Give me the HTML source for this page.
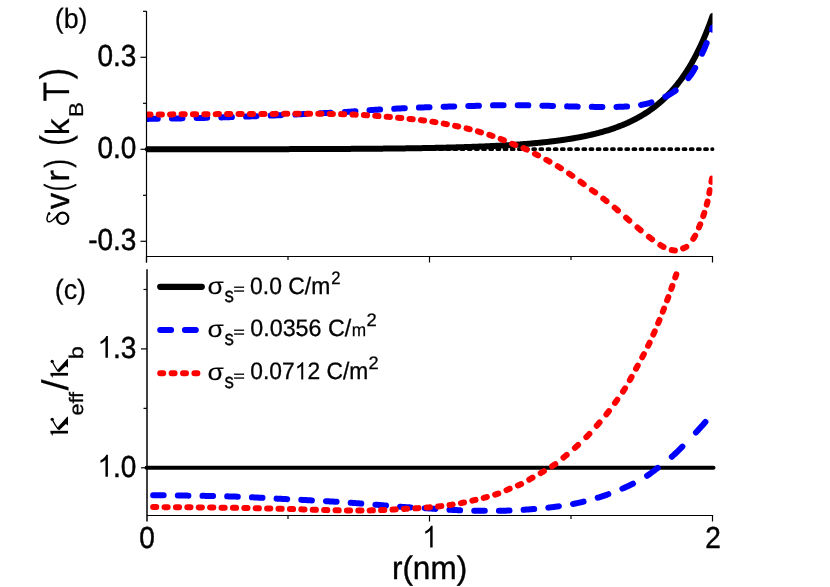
<!DOCTYPE html>
<html><head><meta charset="utf-8"><title>chart</title>
<style>
html,body{margin:0;padding:0;background:#fff;}
body{width:830px;height:587px;overflow:hidden;font-family:"Liberation Sans",sans-serif;}
svg{display:block;}
svg text{text-rendering:geometricPrecision;}
.t{opacity:0.999;}
</style></head><body>
<svg width="830" height="587" viewBox="0 0 830 587">
<defs>
<clipPath id="ct"><rect x="146.5" y="0" width="566.0" height="256.5"/></clipPath>
<clipPath id="cb"><rect x="140" y="269.5" width="578.5" height="246.0"/></clipPath>
</defs>
<rect width="830" height="587" fill="#fff"/>
<path d="M146.52,149.15 H712.5" fill="none" stroke="#000" stroke-width="3.8" stroke-linecap="round" stroke-dasharray="2.0 5.16" stroke-dashoffset="0"/>
<g clip-path="url(#ct)" fill="none" stroke-linecap="round" stroke-linejoin="round">
<path d="M146.50,149.28 L147.25,149.28 L148.00,149.28 L148.75,149.28 L149.50,149.28 L150.25,149.28 L151.00,149.28 L151.75,149.28 L152.50,149.28 L153.25,149.28 L154.00,149.27 L154.75,149.27 L155.50,149.27 L156.25,149.27 L157.00,149.27 L157.75,149.27 L158.50,149.27 L159.25,149.27 L160.00,149.27 L160.75,149.27 L161.50,149.27 L162.25,149.27 L163.00,149.27 L163.75,149.27 L164.50,149.27 L165.25,149.27 L166.00,149.27 L166.75,149.27 L167.50,149.27 L168.25,149.27 L169.00,149.27 L169.75,149.27 L170.50,149.27 L171.25,149.27 L172.00,149.27 L172.75,149.27 L173.50,149.27 L174.25,149.27 L175.00,149.27 L175.75,149.27 L176.50,149.27 L177.25,149.26 L178.00,149.26 L178.75,149.26 L179.50,149.26 L180.25,149.26 L181.00,149.26 L181.75,149.26 L182.50,149.26 L183.25,149.26 L184.00,149.26 L184.75,149.26 L185.50,149.26 L186.25,149.26 L187.00,149.26 L187.75,149.26 L188.50,149.26 L189.25,149.26 L190.00,149.26 L190.75,149.26 L191.50,149.26 L192.25,149.26 L193.00,149.26 L193.75,149.26 L194.50,149.26 L195.25,149.25 L196.00,149.25 L196.75,149.25 L197.50,149.25 L198.25,149.25 L199.00,149.25 L199.75,149.25 L200.50,149.25 L201.25,149.25 L202.00,149.25 L202.75,149.25 L203.50,149.25 L204.25,149.25 L205.00,149.25 L205.75,149.25 L206.50,149.25 L207.25,149.25 L208.00,149.25 L208.75,149.24 L209.50,149.24 L210.25,149.24 L211.00,149.24 L211.75,149.24 L212.50,149.24 L213.25,149.24 L214.00,149.24 L214.75,149.24 L215.50,149.24 L216.25,149.24 L217.00,149.24 L217.75,149.24 L218.50,149.24 L219.25,149.24 L220.00,149.24 L220.75,149.23 L221.50,149.23 L222.25,149.23 L223.00,149.23 L223.75,149.23 L224.50,149.23 L225.25,149.23 L226.00,149.23 L226.75,149.23 L227.50,149.23 L228.25,149.23 L229.00,149.23 L229.75,149.23 L230.50,149.22 L231.25,149.22 L232.00,149.22 L232.75,149.22 L233.50,149.22 L234.25,149.22 L235.00,149.22 L235.75,149.22 L236.50,149.22 L237.25,149.22 L238.00,149.22 L238.75,149.22 L239.50,149.21 L240.25,149.21 L241.00,149.21 L241.75,149.21 L242.50,149.21 L243.25,149.21 L244.00,149.21 L244.75,149.21 L245.50,149.21 L246.25,149.21 L247.00,149.20 L247.75,149.20 L248.50,149.20 L249.25,149.20 L250.00,149.20 L250.75,149.20 L251.50,149.20 L252.25,149.20 L253.00,149.20 L253.75,149.19 L254.50,149.19 L255.25,149.19 L256.00,149.19 L256.75,149.19 L257.50,149.19 L258.25,149.19 L259.00,149.19 L259.75,149.19 L260.50,149.18 L261.25,149.18 L262.00,149.18 L262.75,149.18 L263.50,149.18 L264.25,149.18 L265.00,149.18 L265.75,149.18 L266.50,149.17 L267.25,149.17 L268.00,149.17 L268.75,149.17 L269.50,149.17 L270.25,149.17 L271.00,149.17 L271.75,149.16 L272.50,149.16 L273.25,149.16 L274.00,149.16 L274.75,149.16 L275.50,149.16 L276.25,149.15 L277.00,149.15 L277.75,149.15 L278.50,149.15 L279.25,149.15 L280.00,149.15 L280.75,149.15 L281.50,149.14 L282.25,149.14 L283.00,149.14 L283.75,149.14 L284.50,149.14 L285.25,149.13 L286.00,149.13 L286.75,149.13 L287.50,149.13 L288.25,149.13 L289.00,149.13 L289.75,149.12 L290.50,149.12 L291.25,149.12 L292.00,149.12 L292.75,149.12 L293.50,149.11 L294.25,149.11 L295.00,149.11 L295.75,149.11 L296.50,149.11 L297.25,149.10 L298.00,149.10 L298.75,149.10 L299.50,149.10 L300.25,149.10 L301.00,149.09 L301.75,149.09 L302.50,149.09 L303.25,149.09 L304.00,149.08 L304.75,149.08 L305.50,149.08 L306.25,149.08 L307.00,149.07 L307.75,149.07 L308.50,149.07 L309.25,149.07 L310.00,149.06 L310.75,149.06 L311.50,149.06 L312.25,149.06 L313.00,149.05 L313.75,149.05 L314.50,149.05 L315.25,149.05 L316.00,149.04 L316.75,149.04 L317.50,149.04 L318.25,149.03 L319.00,149.03 L319.75,149.03 L320.50,149.03 L321.25,149.02 L322.00,149.02 L322.75,149.02 L323.50,149.01 L324.25,149.01 L325.00,149.01 L325.75,149.00 L326.50,149.00 L327.25,149.00 L328.00,149.00 L328.75,148.99 L329.50,148.99 L330.25,148.99 L331.00,148.98 L331.75,148.98 L332.50,148.97 L333.25,148.97 L334.00,148.97 L334.75,148.96 L335.50,148.96 L336.25,148.96 L337.00,148.95 L337.75,148.95 L338.50,148.95 L339.25,148.94 L340.00,148.94 L340.75,148.93 L341.50,148.93 L342.25,148.93 L343.00,148.92 L343.75,148.92 L344.50,148.91 L345.25,148.91 L346.00,148.91 L346.75,148.90 L347.50,148.90 L348.25,148.89 L349.00,148.89 L349.75,148.88 L350.50,148.88 L351.25,148.87 L352.00,148.87 L352.75,148.87 L353.50,148.86 L354.25,148.86 L355.00,148.85 L355.75,148.85 L356.50,148.84 L357.25,148.84 L358.00,148.83 L358.75,148.83 L359.50,148.82 L360.25,148.82 L361.00,148.81 L361.75,148.81 L362.50,148.80 L363.25,148.79 L364.00,148.79 L364.75,148.78 L365.50,148.78 L366.25,148.77 L367.00,148.77 L367.75,148.76 L368.50,148.75 L369.25,148.75 L370.00,148.74 L370.75,148.74 L371.50,148.73 L372.25,148.72 L373.00,148.72 L373.75,148.71 L374.50,148.71 L375.25,148.70 L376.00,148.69 L376.75,148.69 L377.50,148.68 L378.25,148.67 L379.00,148.67 L379.75,148.66 L380.50,148.65 L381.25,148.65 L382.00,148.64 L382.75,148.63 L383.50,148.62 L384.25,148.62 L385.00,148.61 L385.75,148.60 L386.50,148.59 L387.25,148.59 L388.00,148.58 L388.75,148.57 L389.50,148.56 L390.25,148.55 L391.00,148.55 L391.75,148.54 L392.50,148.53 L393.25,148.52 L394.00,148.51 L394.75,148.51 L395.50,148.50 L396.25,148.49 L397.00,148.48 L397.75,148.47 L398.50,148.46 L399.25,148.45 L400.00,148.44 L400.75,148.43 L401.50,148.42 L402.25,148.41 L403.00,148.40 L403.75,148.40 L404.50,148.39 L405.25,148.38 L406.00,148.37 L406.75,148.36 L407.50,148.34 L408.25,148.33 L409.00,148.32 L409.75,148.31 L410.50,148.30 L411.25,148.29 L412.00,148.28 L412.75,148.27 L413.50,148.26 L414.25,148.25 L415.00,148.24 L415.75,148.22 L416.50,148.21 L417.25,148.20 L418.00,148.19 L418.75,148.18 L419.50,148.16 L420.25,148.15 L421.00,148.14 L421.75,148.13 L422.50,148.11 L423.25,148.10 L424.00,148.09 L424.75,148.08 L425.50,148.06 L426.25,148.05 L427.00,148.03 L427.75,148.02 L428.50,148.01 L429.25,147.99 L430.00,147.98 L430.75,147.96 L431.50,147.95 L432.25,147.94 L433.00,147.92 L433.75,147.91 L434.50,147.89 L435.25,147.87 L436.00,147.86 L436.75,147.84 L437.50,147.83 L438.25,147.81 L439.00,147.80 L439.75,147.78 L440.50,147.76 L441.25,147.75 L442.00,147.73 L442.75,147.71 L443.50,147.69 L444.25,147.68 L445.00,147.66 L445.75,147.64 L446.50,147.62 L447.25,147.60 L448.00,147.59 L448.75,147.57 L449.50,147.55 L450.25,147.53 L451.00,147.51 L451.75,147.49 L452.50,147.47 L453.25,147.45 L454.00,147.43 L454.75,147.41 L455.50,147.39 L456.25,147.37 L457.00,147.35 L457.75,147.33 L458.50,147.30 L459.25,147.28 L460.00,147.26 L460.75,147.24 L461.50,147.22 L462.25,147.19 L463.00,147.17 L463.75,147.15 L464.50,147.12 L465.25,147.10 L466.00,147.07 L466.75,147.05 L467.50,147.03 L468.25,147.00 L469.00,146.98 L469.75,146.95 L470.50,146.92 L471.25,146.90 L472.00,146.87 L472.75,146.85 L473.50,146.82 L474.25,146.79 L475.00,146.76 L475.75,146.74 L476.50,146.71 L477.25,146.68 L478.00,146.65 L478.75,146.62 L479.50,146.59 L480.25,146.56 L481.00,146.53 L481.75,146.50 L482.50,146.47 L483.25,146.44 L484.00,146.41 L484.75,146.38 L485.50,146.34 L486.25,146.31 L487.00,146.28 L487.75,146.24 L488.50,146.21 L489.25,146.18 L490.00,146.14 L490.75,146.11 L491.50,146.07 L492.25,146.04 L493.00,146.00 L493.75,145.96 L494.50,145.93 L495.25,145.89 L496.00,145.85 L496.75,145.81 L497.50,145.78 L498.25,145.74 L499.00,145.70 L499.75,145.66 L500.50,145.62 L501.25,145.58 L502.00,145.53 L502.75,145.49 L503.50,145.45 L504.25,145.41 L505.00,145.36 L505.75,145.32 L506.50,145.28 L507.25,145.23 L508.00,145.19 L508.75,145.14 L509.50,145.09 L510.25,145.05 L511.00,145.00 L511.75,144.95 L512.50,144.90 L513.25,144.85 L514.00,144.81 L514.75,144.75 L515.50,144.70 L516.25,144.65 L517.00,144.60 L517.75,144.55 L518.50,144.50 L519.25,144.44 L520.00,144.39 L520.75,144.33 L521.50,144.28 L522.25,144.22 L523.00,144.16 L523.75,144.11 L524.50,144.05 L525.25,143.99 L526.00,143.93 L526.75,143.87 L527.50,143.81 L528.25,143.75 L529.00,143.68 L529.75,143.62 L530.50,143.56 L531.25,143.49 L532.00,143.43 L532.75,143.36 L533.50,143.29 L534.25,143.23 L535.00,143.16 L535.75,143.09 L536.50,143.02 L537.25,142.95 L538.00,142.87 L538.75,142.80 L539.50,142.73 L540.25,142.65 L541.00,142.58 L541.75,142.50 L542.50,142.42 L543.25,142.35 L544.00,142.27 L544.75,142.19 L545.50,142.11 L546.25,142.02 L547.00,141.94 L547.75,141.86 L548.50,141.77 L549.25,141.69 L550.00,141.60 L550.75,141.51 L551.50,141.42 L552.25,141.33 L553.00,141.24 L553.75,141.15 L554.50,141.05 L555.25,140.96 L556.00,140.86 L556.75,140.77 L557.50,140.67 L558.25,140.57 L559.00,140.47 L559.75,140.37 L560.50,140.26 L561.25,140.16 L562.00,140.05 L562.75,139.95 L563.50,139.84 L564.25,139.73 L565.00,139.62 L565.75,139.51 L566.50,139.39 L567.25,139.28 L568.00,139.16 L568.75,139.04 L569.50,138.92 L570.25,138.80 L571.00,138.68 L571.75,138.56 L572.50,138.43 L573.25,138.30 L574.00,138.17 L574.75,138.04 L575.50,137.91 L576.25,137.78 L577.00,137.64 L577.75,137.51 L578.50,137.37 L579.25,137.23 L580.00,137.08 L580.75,136.94 L581.50,136.79 L582.25,136.65 L583.00,136.50 L583.75,136.34 L584.50,136.19 L585.25,136.04 L586.00,135.88 L586.75,135.72 L587.50,135.56 L588.25,135.39 L589.00,135.23 L589.75,135.06 L590.50,134.89 L591.25,134.71 L592.00,134.54 L592.75,134.36 L593.50,134.18 L594.25,134.00 L595.00,133.82 L595.75,133.63 L596.50,133.44 L597.25,133.25 L598.00,133.05 L598.75,132.86 L599.50,132.66 L600.25,132.46 L601.00,132.25 L601.75,132.04 L602.50,131.83 L603.25,131.62 L604.00,131.40 L604.75,131.18 L605.50,130.96 L606.25,130.74 L607.00,130.51 L607.75,130.28 L608.50,130.04 L609.25,129.81 L610.00,129.56 L610.75,129.32 L611.50,129.07 L612.25,128.82 L613.00,128.57 L613.75,128.31 L614.50,128.05 L615.25,127.78 L616.00,127.51 L616.75,127.24 L617.50,126.96 L618.25,126.68 L619.00,126.40 L619.75,126.11 L620.50,125.82 L621.25,125.52 L622.00,125.22 L622.75,124.92 L623.50,124.61 L624.25,124.29 L625.00,123.98 L625.75,123.65 L626.50,123.33 L627.25,122.99 L628.00,122.66 L628.75,122.31 L629.50,121.97 L630.25,121.62 L631.00,121.26 L631.75,120.90 L632.50,120.53 L633.25,120.16 L634.00,119.78 L634.75,119.39 L635.50,119.00 L636.25,118.61 L637.00,118.21 L637.75,117.80 L638.50,117.39 L639.25,116.97 L640.00,116.54 L640.75,116.11 L641.50,115.67 L642.25,115.22 L643.00,114.77 L643.75,114.31 L644.50,113.85 L645.25,113.37 L646.00,112.89 L646.75,112.41 L647.50,111.91 L648.25,111.41 L649.00,110.90 L649.75,110.38 L650.50,109.85 L651.25,109.32 L652.00,108.78 L652.75,108.23 L653.50,107.67 L654.25,107.10 L655.00,106.52 L655.75,105.93 L656.50,105.34 L657.25,104.73 L658.00,104.12 L658.75,103.49 L659.50,102.86 L660.25,102.21 L661.00,101.56 L661.75,100.89 L662.50,100.22 L663.25,99.53 L664.00,98.83 L664.75,98.12 L665.50,97.40 L666.25,96.67 L667.00,95.92 L667.75,95.17 L668.50,94.40 L669.25,93.61 L670.00,92.82 L670.75,92.01 L671.50,91.19 L672.25,90.36 L673.00,89.51 L673.75,88.64 L674.50,87.77 L675.25,86.87 L676.00,85.97 L676.75,85.05 L677.50,84.11 L678.25,83.15 L679.00,82.18 L679.75,81.20 L680.50,80.20 L681.25,79.18 L682.00,78.14 L682.75,77.08 L683.50,76.01 L684.25,74.92 L685.00,73.81 L685.75,72.68 L686.50,71.53 L687.25,70.36 L688.00,69.17 L688.75,67.96 L689.50,66.73 L690.25,65.47 L691.00,64.20 L691.75,62.90 L692.50,61.58 L693.25,60.24 L694.00,58.87 L694.75,57.48 L695.50,56.06 L696.25,54.62 L697.00,53.15 L697.75,51.66 L698.50,50.14 L699.25,48.59 L700.00,47.01 L700.75,45.41 L701.50,43.78 L702.25,42.11 L703.00,40.42 L703.75,38.70 L704.50,36.94 L705.25,35.15 L706.00,33.33 L706.75,31.48 L707.50,29.59 L708.25,27.67 L709.00,25.71 L709.75,23.71 L710.50,21.68 L711.25,19.61 L712.00,17.51 L712.50,16.08" stroke="#000" stroke-width="6"/>
<path d="M147.20,118.89 L147.95,118.89 L148.70,118.88 L149.45,118.87 L150.20,118.86 L150.95,118.86 L151.70,118.85 L152.45,118.84 L153.20,118.83 L153.95,118.82 L154.70,118.81 L155.45,118.80 L156.20,118.80 L156.95,118.79 L157.70,118.78 L157.80,118.78 M171.90,118.56 L172.45,118.55 L173.20,118.54 L173.95,118.53 L174.70,118.51 L175.45,118.50 L176.20,118.49 L176.95,118.47 L177.70,118.46 L178.45,118.44 L179.20,118.43 L179.95,118.42 L180.70,118.40 L181.45,118.39 L182.20,118.37 L182.50,118.37 M196.60,118.07 L197.20,118.06 L197.95,118.05 L198.70,118.03 L199.45,118.01 L200.20,118.00 L200.95,117.98 L201.70,117.96 L202.45,117.94 L203.20,117.93 L203.95,117.91 L204.70,117.89 L205.45,117.87 L206.20,117.85 L206.95,117.83 L207.20,117.83 M221.30,117.41 L221.95,117.39 L222.70,117.36 L223.45,117.34 L224.20,117.31 L224.95,117.29 L225.70,117.26 L226.45,117.24 L227.20,117.21 L227.95,117.19 L228.70,117.16 L229.45,117.14 L230.20,117.11 L230.95,117.08 L231.70,117.06 L231.90,117.05 M246.00,116.54 L246.70,116.52 L247.45,116.49 L248.20,116.46 L248.95,116.44 L249.70,116.41 L250.45,116.38 L251.20,116.36 L251.95,116.33 L252.70,116.30 L253.45,116.27 L254.20,116.25 L254.95,116.22 L255.70,116.19 L256.45,116.16 L256.60,116.15 M270.70,115.58 L271.45,115.55 L272.20,115.52 L272.95,115.49 L273.70,115.46 L274.45,115.42 L275.20,115.39 L275.95,115.36 L276.70,115.33 L277.45,115.29 L278.20,115.26 L278.95,115.23 L279.70,115.19 L280.45,115.16 L281.20,115.13 L281.30,115.12 M295.40,114.47 L295.95,114.44 L296.70,114.41 L297.45,114.37 L298.20,114.34 L298.95,114.30 L299.70,114.26 L300.45,114.23 L301.20,114.19 L301.95,114.16 L302.70,114.12 L303.45,114.08 L304.20,114.05 L304.95,114.01 L305.70,113.98 L306.00,113.96 M320.10,113.29 L320.70,113.26 L321.45,113.23 L322.20,113.19 L322.95,113.16 L323.70,113.12 L324.45,113.09 L325.20,113.05 L325.95,113.02 L326.70,112.98 L327.45,112.95 L328.20,112.91 L328.95,112.88 L329.70,112.84 L330.45,112.81 L330.70,112.79 M344.80,112.03 L345.45,111.99 L346.20,111.94 L346.95,111.89 L347.70,111.84 L348.45,111.78 L349.20,111.73 L349.95,111.68 L350.70,111.62 L351.45,111.57 L352.20,111.51 L352.95,111.46 L353.70,111.40 L354.45,111.34 L355.20,111.28 L355.40,111.27 M369.50,110.18 L370.20,110.13 L370.95,110.07 L371.70,110.02 L372.45,109.97 L373.20,109.92 L373.95,109.87 L374.70,109.82 L375.45,109.77 L376.20,109.72 L376.95,109.67 L377.70,109.63 L378.45,109.59 L379.20,109.54 L379.95,109.50 L380.10,109.49 M394.20,108.72 L394.95,108.68 L395.70,108.65 L396.45,108.61 L397.20,108.57 L397.95,108.53 L398.70,108.49 L399.45,108.46 L400.20,108.42 L400.95,108.38 L401.70,108.35 L402.45,108.31 L403.20,108.28 L403.95,108.24 L404.70,108.20 L404.80,108.20 M418.90,107.59 L419.45,107.56 L420.20,107.53 L420.95,107.50 L421.70,107.48 L422.45,107.45 L423.20,107.42 L423.95,107.39 L424.70,107.36 L425.45,107.33 L426.20,107.31 L426.95,107.28 L427.70,107.25 L428.45,107.23 L429.20,107.20 L429.50,107.19 M443.60,106.75 L444.20,106.73 L444.95,106.71 L445.70,106.69 L446.45,106.67 L447.20,106.64 L447.95,106.62 L448.70,106.60 L449.45,106.58 L450.20,106.56 L450.95,106.54 L451.70,106.52 L452.45,106.50 L453.20,106.48 L453.95,106.46 L454.20,106.45 M468.30,106.07 L468.95,106.06 L469.70,106.04 L470.45,106.02 L471.20,105.99 L471.95,105.97 L472.70,105.95 L473.45,105.93 L474.20,105.91 L474.95,105.89 L475.70,105.87 L476.45,105.84 L477.20,105.82 L477.95,105.80 L478.70,105.77 L478.90,105.76 M493.00,105.29 L493.70,105.27 L494.45,105.26 L495.20,105.24 L495.95,105.23 L496.70,105.22 L497.45,105.21 L498.20,105.21 L498.95,105.20 L499.70,105.20 L500.45,105.20 L501.20,105.20 L501.95,105.20 L502.70,105.20 L503.45,105.20 L503.60,105.20 M517.70,105.25 L518.20,105.25 L518.95,105.25 L519.70,105.26 L520.45,105.26 L521.20,105.26 L521.95,105.27 L522.70,105.27 L523.45,105.28 L524.20,105.28 L524.95,105.29 L525.70,105.29 L526.45,105.29 L527.20,105.30 L527.95,105.30 L528.30,105.31 M542.40,105.63 L542.95,105.65 L543.70,105.67 L544.45,105.70 L545.20,105.72 L545.95,105.74 L546.70,105.77 L547.45,105.79 L548.20,105.82 L548.95,105.84 L549.70,105.86 L550.45,105.89 L551.20,105.91 L551.95,105.93 L552.70,105.95 L553.00,105.96 M567.10,106.36 L567.70,106.37 L568.45,106.39 L569.20,106.41 L569.95,106.44 L570.70,106.46 L571.45,106.48 L572.20,106.50 L572.95,106.51 L573.70,106.53 L574.45,106.55 L575.20,106.57 L575.95,106.59 L576.70,106.60 L577.45,106.62 L577.70,106.63 M591.80,106.85 L592.45,106.86 L593.20,106.87 L593.95,106.88 L594.70,106.89 L595.45,106.90 L596.20,106.91 L596.95,106.92 L597.70,106.93 L598.45,106.94 L599.20,106.95 L599.95,106.95 L600.70,106.96 L601.45,106.97 L602.20,106.97 L602.40,106.97 M616.50,106.91 L617.20,106.89 L617.95,106.87 L618.70,106.84 L619.45,106.82 L620.20,106.79 L620.95,106.77 L621.70,106.74 L622.45,106.71 L623.20,106.68 L623.95,106.65 L624.70,106.61 L625.45,106.58 L626.20,106.54 L626.95,106.51 L627.10,106.50 M641.02,104.93 L641.70,104.80 L642.45,104.64 L643.20,104.49 L643.95,104.33 L644.70,104.16 L645.45,104.00 L646.20,103.83 L646.95,103.66 L647.70,103.48 L648.45,103.30 L649.20,103.10 L649.95,102.89 L650.70,102.67 L651.44,102.44 M665.31,96.79 L665.95,96.48 L666.70,96.09 L667.45,95.70 L668.20,95.29 L668.95,94.87 L669.70,94.43 L670.45,93.98 L671.20,93.52 L671.95,93.04 L672.70,92.55 L673.45,92.04 L674.20,91.51 L674.95,90.97 L675.59,90.50 M688.36,78.12 L688.95,77.39 L689.70,76.44 L690.45,75.46 L691.20,74.45 L691.95,73.37 L692.70,72.20 L693.45,70.96 L694.20,69.66 L694.95,68.29 L695.19,67.84 M702.07,53.71 L702.70,52.35 L703.45,50.68 L704.20,48.97 L704.95,47.22 L705.70,45.43 L706.45,43.60 L706.66,43.08 M711.97,28.95 L712.20,28.28 M711.9,29.6 L712.4,27.7" stroke="#0000ff" stroke-width="6"/>
<path d="M147.30,114.59 L148.05,114.59 L148.80,114.58 L149.55,114.57 L150.30,114.57 L150.50,114.56 M158.70,114.49 L159.30,114.49 L160.05,114.48 L160.80,114.47 L161.55,114.47 L161.90,114.46 M170.10,114.40 L170.80,114.39 L171.55,114.39 L172.30,114.38 L173.05,114.37 L173.30,114.37 M181.50,114.31 L182.05,114.31 L182.80,114.30 L183.55,114.30 L184.30,114.29 L184.70,114.29 M192.90,114.24 L193.55,114.24 L194.30,114.23 L195.05,114.23 L195.80,114.22 L196.10,114.22 M204.30,114.18 L205.05,114.17 L205.80,114.17 L206.55,114.17 L207.30,114.16 L207.50,114.16 M215.70,114.13 L216.30,114.13 L217.05,114.12 L217.80,114.12 L218.55,114.12 L218.90,114.12 M227.10,114.08 L227.80,114.08 L228.55,114.08 L229.30,114.08 L230.05,114.07 L230.30,114.07 M238.50,114.04 L239.05,114.04 L239.80,114.04 L240.55,114.04 L241.30,114.03 L241.70,114.03 M249.90,114.00 L250.55,114.00 L251.30,113.99 L252.05,113.99 L252.80,113.99 L253.10,113.99 M261.30,113.95 L262.05,113.94 L262.80,113.94 L263.55,113.94 L264.30,113.93 L264.50,113.93 M272.70,113.89 L273.30,113.88 L274.05,113.88 L274.80,113.88 L275.55,113.87 L275.90,113.87 M284.10,113.83 L284.80,113.83 L285.55,113.83 L286.30,113.83 L287.05,113.82 L287.30,113.82 M295.50,113.80 L296.05,113.80 L296.80,113.80 L297.55,113.80 L298.30,113.80 L298.70,113.80 M306.90,113.81 L307.55,113.81 L308.30,113.81 L309.05,113.81 L309.80,113.81 L310.10,113.81 M318.30,113.84 L319.05,113.84 L319.80,113.85 L320.55,113.85 L321.30,113.85 L321.50,113.85 M329.70,113.90 L330.30,113.90 L331.05,113.91 L331.80,113.92 L332.55,113.93 L332.90,113.93 M341.10,114.12 L341.80,114.14 L342.55,114.17 L343.30,114.19 L344.05,114.22 L344.30,114.23 M352.50,114.54 L353.05,114.56 L353.80,114.59 L354.55,114.62 L355.30,114.65 L355.70,114.66 M363.90,115.07 L364.55,115.11 L365.30,115.15 L366.05,115.20 L366.80,115.24 L367.10,115.26 M375.30,115.80 L376.05,115.85 L376.80,115.90 L377.55,115.95 L378.30,116.01 L378.50,116.02 M386.70,116.69 L387.30,116.74 L388.05,116.81 L388.80,116.88 L389.55,116.95 L389.90,116.98 M398.10,117.78 L398.80,117.85 L399.55,117.93 L400.30,118.00 L401.05,118.08 L401.30,118.10 M409.50,118.91 L410.05,118.96 L410.80,119.04 L411.55,119.11 L412.30,119.19 L412.70,119.23 M420.90,120.12 L421.55,120.20 L422.30,120.28 L423.05,120.38 L423.80,120.47 L424.10,120.50 M432.30,121.65 L433.05,121.76 L433.80,121.88 L434.55,122.00 L435.30,122.12 L435.50,122.16 M443.70,123.60 L444.30,123.71 L445.05,123.85 L445.80,123.99 L446.55,124.13 L446.90,124.20 M455.10,125.83 L455.80,125.98 L456.55,126.14 L457.30,126.30 L458.05,126.47 L458.30,126.52 M466.50,128.42 L467.05,128.56 L467.80,128.74 L468.55,128.93 L469.30,129.12 L469.70,129.22 M477.90,131.41 L478.55,131.60 L479.30,131.81 L480.05,132.03 L480.80,132.26 L481.10,132.34 M489.30,134.93 L490.05,135.18 L490.80,135.43 L491.55,135.68 L492.30,135.94 L492.50,136.01 M500.70,138.96 L501.30,139.20 L502.05,139.50 L502.80,139.81 L503.55,140.13 L503.90,140.27 M512.10,143.74 L512.80,144.02 L513.55,144.31 L514.30,144.59 L515.05,144.86 L515.30,144.96 M523.50,148.10 L524.05,148.35 L524.80,148.69 L525.55,149.04 L526.30,149.40 L526.70,149.59 M534.90,153.79 L535.55,154.13 L536.30,154.52 L537.05,154.91 L537.80,155.30 L538.10,155.46 M546.30,159.79 L547.05,160.20 L547.80,160.61 L548.55,161.02 L549.30,161.43 L549.50,161.54 M557.70,166.24 L558.30,166.60 L559.05,167.05 L559.80,167.51 L560.55,167.97 L560.90,168.19 M569.10,173.59 L569.80,174.08 L570.55,174.60 L571.30,175.13 L572.05,175.65 L572.30,175.83 M580.50,181.76 L581.05,182.16 L581.80,182.71 L582.55,183.26 L583.30,183.81 L583.70,184.10 M591.90,190.07 L592.55,190.55 L593.30,191.10 L594.05,191.65 L594.80,192.21 L595.10,192.43 M603.30,198.59 L604.05,199.17 L604.80,199.75 L605.55,200.33 L606.30,200.91 L606.50,201.07 M614.70,207.69 L615.30,208.20 L616.05,208.84 L616.80,209.48 L617.55,210.13 L617.90,210.44 M626.10,217.69 L626.80,218.31 L627.55,218.97 L628.30,219.64 L629.05,220.30 L629.30,220.52 M637.50,227.53 L638.05,227.99 L638.80,228.62 L639.55,229.24 L640.30,229.87 L640.70,230.21 M648.90,236.91 L649.55,237.41 L650.30,237.98 L651.05,238.55 L651.80,239.10 L652.10,239.32 M660.30,245.03 L661.05,245.51 L661.80,245.98 L662.55,246.43 L663.30,246.86 L663.50,246.97 M671.70,250.04 L672.30,250.17 L673.05,250.30 L673.80,250.37 L674.55,250.40 L674.90,250.39 M683.10,248.41 L683.80,248.13 L684.55,247.82 L685.30,247.46 L686.05,247.00 L686.30,246.82 M693.24,238.86 L693.80,238.06 L694.55,236.86 L695.22,235.66 M698.96,227.46 L699.55,226.00 L700.23,224.26 M703.27,216.06 L703.80,214.48 L704.32,212.86 M706.71,204.66 L706.80,204.32 L707.05,203.37 L707.30,202.39 L707.53,201.46 M709.28,193.26 L709.30,193.15 L709.55,191.84 L709.80,190.52 L709.88,190.06 M711.40,181.86 L711.55,181.09 L711.80,179.77 L712.01,178.66" stroke="#ff0000" stroke-width="6"/>
</g>
<g clip-path="url(#cb)" fill="none" stroke-linecap="round" stroke-linejoin="round">
<line x1="146.5" y1="467.8" x2="713.5" y2="467.8" stroke="#000" stroke-width="4"/>
<path d="M153.10,495.30 L153.85,495.30 L154.60,495.31 L155.35,495.31 L156.10,495.32 L156.85,495.32 L157.60,495.32 L158.35,495.33 L159.10,495.33 L159.85,495.34 L160.60,495.34 L161.35,495.35 L162.10,495.35 L162.85,495.36 L163.60,495.37 L163.70,495.37 M177.80,495.51 L178.35,495.51 L179.10,495.52 L179.85,495.53 L180.60,495.54 L181.35,495.55 L182.10,495.56 L182.85,495.57 L183.60,495.58 L184.35,495.58 L185.10,495.59 L185.85,495.60 L186.60,495.61 L187.35,495.62 L188.10,495.63 L188.40,495.64 M202.50,495.84 L203.10,495.85 L203.85,495.86 L204.60,495.87 L205.35,495.88 L206.10,495.90 L206.85,495.91 L207.60,495.92 L208.35,495.93 L209.10,495.95 L209.85,495.96 L210.60,495.98 L211.35,495.99 L212.10,496.00 L212.85,496.02 L213.10,496.02 M227.20,496.35 L227.85,496.36 L228.60,496.38 L229.35,496.40 L230.10,496.42 L230.85,496.44 L231.60,496.47 L232.35,496.49 L233.10,496.51 L233.85,496.53 L234.60,496.55 L235.35,496.58 L236.10,496.60 L236.85,496.63 L237.60,496.66 L237.80,496.66 M251.90,497.28 L252.60,497.31 L253.35,497.35 L254.10,497.39 L254.85,497.43 L255.60,497.47 L256.35,497.51 L257.10,497.55 L257.85,497.59 L258.60,497.63 L259.35,497.67 L260.10,497.71 L260.85,497.75 L261.60,497.79 L262.35,497.83 L262.50,497.84 M276.60,498.61 L277.10,498.63 L277.85,498.67 L278.60,498.71 L279.35,498.75 L280.10,498.79 L280.85,498.83 L281.60,498.87 L282.35,498.91 L283.10,498.95 L283.85,498.98 L284.60,499.02 L285.35,499.06 L286.10,499.10 L286.85,499.13 L287.20,499.15 M301.30,499.86 L301.85,499.89 L302.60,499.92 L303.35,499.96 L304.10,500.00 L304.85,500.04 L305.60,500.08 L306.35,500.12 L307.10,500.15 L307.85,500.19 L308.60,500.23 L309.35,500.27 L310.10,500.31 L310.85,500.35 L311.60,500.39 L311.90,500.40 M326.00,501.17 L326.60,501.21 L327.35,501.25 L328.10,501.29 L328.85,501.34 L329.60,501.38 L330.35,501.43 L331.10,501.47 L331.85,501.51 L332.60,501.56 L333.35,501.61 L334.10,501.65 L334.85,501.70 L335.60,501.74 L336.35,501.79 L336.60,501.81 M350.70,502.76 L351.35,502.80 L352.10,502.86 L352.85,502.91 L353.60,502.96 L354.35,503.02 L355.10,503.07 L355.85,503.13 L356.60,503.18 L357.35,503.24 L358.10,503.30 L358.85,503.35 L359.60,503.41 L360.35,503.47 L361.10,503.53 L361.30,503.54 M375.40,504.67 L376.10,504.73 L376.85,504.79 L377.60,504.85 L378.35,504.91 L379.10,504.97 L379.85,505.04 L380.60,505.10 L381.35,505.16 L382.10,505.23 L382.85,505.29 L383.60,505.35 L384.35,505.42 L385.10,505.49 L385.85,505.55 L386.00,505.56 M400.10,506.74 L400.60,506.78 L401.35,506.83 L402.10,506.89 L402.85,506.94 L403.60,506.99 L404.35,507.04 L405.10,507.08 L405.85,507.13 L406.60,507.18 L407.35,507.22 L408.10,507.27 L408.85,507.31 L409.60,507.36 L410.35,507.40 L410.70,507.42 M424.80,508.21 L425.35,508.24 L426.10,508.28 L426.85,508.33 L427.60,508.37 L428.35,508.42 L429.10,508.47 L429.85,508.52 L430.60,508.56 L431.35,508.61 L432.10,508.66 L432.85,508.71 L433.60,508.76 L434.35,508.81 L435.10,508.87 L435.40,508.89 M449.50,509.75 L450.10,509.78 L450.85,509.82 L451.60,509.85 L452.35,509.89 L453.10,509.92 L453.85,509.96 L454.60,510.00 L455.35,510.03 L456.10,510.07 L456.85,510.11 L457.60,510.14 L458.35,510.18 L459.10,510.21 L459.85,510.25 L460.10,510.26 M474.20,510.70 L474.85,510.70 L475.60,510.71 L476.35,510.71 L477.10,510.72 L477.85,510.72 L478.60,510.73 L479.35,510.73 L480.10,510.74 L480.85,510.74 L481.60,510.75 L482.35,510.75 L483.10,510.76 L483.85,510.76 L484.60,510.76 L484.80,510.76 M498.90,510.80 L499.60,510.80 L500.35,510.79 L501.10,510.78 L501.85,510.77 L502.60,510.76 L503.35,510.74 L504.10,510.72 L504.85,510.70 L505.60,510.68 L506.35,510.65 L507.10,510.62 L507.85,510.59 L508.60,510.56 L509.35,510.53 L509.50,510.52 M523.60,509.75 L524.35,509.71 L525.10,509.66 L525.85,509.61 L526.60,509.56 L527.35,509.51 L528.10,509.45 L528.85,509.40 L529.60,509.34 L530.35,509.28 L531.10,509.22 L531.85,509.16 L532.60,509.10 L533.35,509.04 L534.10,508.98 L534.20,508.97 M548.30,507.62 L548.85,507.55 L549.60,507.47 L550.35,507.39 L551.10,507.30 L551.85,507.21 L552.60,507.12 L553.35,507.03 L554.10,506.94 L554.85,506.84 L555.60,506.75 L556.35,506.65 L557.10,506.55 L557.85,506.45 L558.60,506.35 L558.90,506.30 M573.00,503.94 L573.60,503.82 L574.35,503.68 L575.10,503.53 L575.85,503.38 L576.60,503.23 L577.35,503.07 L578.10,502.92 L578.85,502.76 L579.60,502.59 L580.35,502.43 L581.10,502.25 L581.85,502.08 L582.60,501.90 L583.35,501.72 L583.60,501.66 M597.70,497.71 L598.35,497.51 L599.10,497.28 L599.85,497.04 L600.60,496.81 L601.35,496.57 L602.10,496.32 L602.85,496.08 L603.60,495.83 L604.35,495.58 L605.10,495.33 L605.85,495.07 L606.60,494.81 L607.35,494.54 L608.10,494.28 L608.30,494.20 M622.40,488.62 L623.10,488.31 L623.85,487.99 L624.60,487.65 L625.35,487.32 L626.10,486.98 L626.85,486.64 L627.60,486.30 L628.35,485.95 L629.10,485.60 L629.85,485.24 L630.60,484.89 L631.35,484.52 L632.10,484.16 L632.85,483.78 L633.00,483.71 M647.10,475.78 L647.85,475.27 L648.60,474.75 L649.35,474.21 L650.10,473.66 L650.85,473.11 L651.60,472.55 L652.35,471.98 L653.10,471.41 L653.85,470.83 L654.60,470.26 L655.35,469.69 L656.10,469.12 L656.85,468.56 L657.60,468.01 L657.70,467.93 M671.80,456.78 L672.35,456.28 L673.10,455.60 L673.85,454.91 L674.60,454.21 L675.35,453.50 L676.10,452.79 L676.85,452.08 L677.60,451.35 L678.35,450.62 L679.10,449.89 L679.85,449.15 L680.60,448.41 L681.35,447.66 L682.10,446.91 L682.40,446.61 M695.97,432.51 L696.60,431.83 L697.35,431.01 L698.10,430.18 L698.85,429.35 L699.60,428.52 L700.35,427.68 L701.10,426.84 L701.85,426.00 L702.60,425.15 L703.35,424.30 L704.10,423.44 L704.85,422.59 L705.44,421.91" stroke="#0000ff" stroke-width="6"/>
<path d="M153.10,507.10 L153.85,507.10 L154.60,507.10 L155.35,507.11 L156.10,507.11 L156.30,507.11 M164.50,507.15 L165.10,507.15 L165.85,507.15 L166.60,507.16 L167.35,507.16 L167.70,507.16 M175.90,507.21 L176.60,507.22 L177.35,507.22 L178.10,507.23 L178.85,507.23 L179.10,507.24 M187.30,507.30 L187.85,507.30 L188.60,507.31 L189.35,507.31 L190.10,507.32 L190.50,507.32 M198.70,507.39 L199.35,507.39 L200.10,507.40 L200.85,507.41 L201.60,507.41 L201.90,507.42 M210.10,507.50 L210.85,507.51 L211.60,507.52 L212.35,507.53 L213.10,507.53 L213.30,507.54 M221.50,507.64 L222.10,507.65 L222.85,507.66 L223.60,507.67 L224.35,507.68 L224.70,507.68 M232.90,507.80 L233.60,507.81 L234.35,507.82 L235.10,507.84 L235.85,507.85 L236.10,507.85 M244.30,507.99 L244.85,508.00 L245.60,508.01 L246.35,508.03 L247.10,508.04 L247.50,508.05 M255.70,508.21 L256.35,508.22 L257.10,508.24 L257.85,508.25 L258.60,508.27 L258.90,508.28 M267.10,508.45 L267.60,508.46 L268.35,508.48 L269.10,508.50 L269.85,508.51 L270.30,508.52 M278.50,508.71 L279.10,508.73 L279.85,508.74 L280.60,508.76 L281.35,508.78 L281.70,508.79 M289.90,509.00 L290.60,509.02 L291.35,509.04 L292.10,509.06 L292.85,509.08 L293.10,509.09 M301.30,509.34 L301.85,509.36 L302.60,509.38 L303.35,509.40 L304.10,509.43 L304.50,509.44 M312.70,509.69 L313.35,509.71 L314.10,509.74 L314.85,509.76 L315.60,509.78 L315.90,509.79 M324.10,510.02 L324.60,510.03 L325.35,510.05 L326.10,510.07 L326.85,510.09 L327.30,510.10 M335.50,510.29 L336.10,510.30 L336.85,510.32 L337.60,510.34 L338.35,510.36 L338.70,510.37 M346.90,510.54 L347.60,510.55 L348.35,510.56 L349.10,510.57 L349.85,510.58 L350.10,510.58 M358.30,510.58 L358.85,510.58 L359.60,510.57 L360.35,510.56 L361.10,510.55 L361.50,510.55 M369.70,510.40 L370.35,510.39 L371.10,510.37 L371.85,510.35 L372.60,510.34 L372.90,510.33 M381.10,510.11 L381.60,510.09 L382.35,510.07 L383.10,510.04 L383.85,510.00 L384.30,509.99 M392.50,509.56 L393.10,509.53 L393.85,509.48 L394.60,509.44 L395.35,509.40 L395.70,509.37 M403.90,508.92 L404.60,508.88 L405.35,508.84 L406.10,508.80 L406.85,508.76 L407.10,508.75 M415.30,508.32 L415.85,508.29 L416.60,508.24 L417.35,508.20 L418.10,508.16 L418.50,508.13 M426.70,507.58 L427.35,507.53 L428.10,507.47 L428.85,507.40 L429.60,507.34 L429.90,507.31 M438.10,506.49 L438.85,506.41 L439.60,506.32 L440.35,506.23 L441.10,506.14 L441.30,506.12 M449.50,505.04 L450.10,504.96 L450.85,504.85 L451.60,504.74 L452.35,504.62 L452.70,504.57 M460.90,503.10 L461.60,502.96 L462.35,502.81 L463.10,502.65 L463.85,502.50 L464.10,502.45 M472.30,500.63 L472.85,500.50 L473.60,500.33 L474.35,500.16 L475.10,499.98 L475.50,499.89 M483.70,497.87 L484.35,497.70 L485.10,497.51 L485.85,497.31 L486.60,497.10 L486.90,497.02 M495.10,494.60 L495.85,494.35 L496.60,494.11 L497.35,493.86 L498.10,493.61 L498.30,493.54 M506.50,490.14 L507.10,489.87 L507.85,489.53 L508.60,489.20 L509.35,488.88 L509.70,488.73 M517.90,485.46 L518.60,485.17 L519.35,484.86 L520.10,484.54 L520.85,484.21 L521.10,484.10 M529.30,479.60 L529.85,479.26 L530.60,478.80 L531.35,478.34 L532.10,477.90 L532.50,477.66 M540.70,473.01 L541.35,472.65 L542.10,472.23 L542.85,471.80 L543.60,471.38 L543.90,471.21 M552.10,466.28 L552.85,465.79 L553.60,465.29 L554.35,464.79 L555.10,464.27 L555.30,464.13 M563.50,457.59 L564.10,457.08 L564.85,456.45 L565.60,455.82 L566.35,455.19 L566.70,454.90 M574.90,447.86 L575.60,447.23 L576.35,446.55 L577.10,445.87 L577.85,445.19 L578.10,444.96 M586.30,437.12 L586.85,436.57 L587.60,435.80 L588.35,435.02 L589.10,434.23 L589.39,433.92 M596.73,425.72 L597.35,425.02 L598.10,424.16 L598.85,423.29 L599.52,422.52 M606.41,414.32 L607.10,413.46 L607.85,412.52 L608.60,411.56 L608.94,411.12 M614.97,402.92 L615.60,402.04 L616.35,400.99 L617.10,399.94 L617.26,399.72 M622.99,391.52 L623.60,390.59 L624.35,389.42 L625.03,388.32 M629.82,380.12 L630.35,379.18 L631.10,377.82 L631.59,376.92 M636.02,368.72 L636.60,367.65 L637.35,366.26 L637.75,365.52 M642.19,357.32 L642.85,356.09 L643.60,354.68 L643.89,354.12 M648.07,345.92 L648.60,344.83 L649.35,343.27 L649.61,342.72 M653.33,334.52 L653.85,333.34 L654.60,331.61 L654.72,331.32 M658.18,323.12 L658.85,321.51 L659.50,319.92 M662.78,311.72 L663.35,310.25 L664.02,308.52 M667.12,300.32 L667.35,299.72 L667.60,299.05 L667.85,298.37 L668.10,297.70 L668.31,297.12 M671.25,288.92 L671.85,287.21 L672.37,285.72 M675.23,277.52 L675.85,275.77 L676.36,274.32" stroke="#ff0000" stroke-width="6"/>
</g>
<g>
<line x1="146.50" y1="11.00" x2="146.50" y2="262.50" stroke="#000" stroke-width="1.2"/>
<line x1="146.50" y1="256.50" x2="713.10" y2="256.50" stroke="#000" stroke-width="1.2"/>
<line x1="143.00" y1="11.30" x2="146.50" y2="11.30" stroke="#000" stroke-width="1.2"/>
<line x1="140.50" y1="57.30" x2="146.50" y2="57.30" stroke="#000" stroke-width="1.2"/>
<line x1="143.00" y1="103.30" x2="146.50" y2="103.30" stroke="#000" stroke-width="1.2"/>
<line x1="140.50" y1="149.30" x2="146.50" y2="149.30" stroke="#000" stroke-width="1.2"/>
<line x1="143.00" y1="195.30" x2="146.50" y2="195.30" stroke="#000" stroke-width="1.2"/>
<line x1="140.50" y1="241.30" x2="146.50" y2="241.30" stroke="#000" stroke-width="1.2"/>
<line x1="146.50" y1="256.50" x2="146.50" y2="262.50" stroke="#000" stroke-width="1.2"/>
<line x1="288.00" y1="256.50" x2="288.00" y2="260.00" stroke="#000" stroke-width="1.2"/>
<line x1="429.50" y1="256.50" x2="429.50" y2="262.50" stroke="#000" stroke-width="1.2"/>
<line x1="571.00" y1="256.50" x2="571.00" y2="260.00" stroke="#000" stroke-width="1.2"/>
<line x1="712.50" y1="256.50" x2="712.50" y2="262.50" stroke="#000" stroke-width="1.2"/>
<line x1="147.00" y1="269.30" x2="147.00" y2="521.50" stroke="#000" stroke-width="1.5"/>
<line x1="147.00" y1="515.50" x2="713.10" y2="515.50" stroke="#000" stroke-width="1.2"/>
<line x1="143.50" y1="289.47" x2="147.00" y2="289.47" stroke="#000" stroke-width="1.2"/>
<line x1="141.00" y1="348.91" x2="147.00" y2="348.91" stroke="#000" stroke-width="1.2"/>
<line x1="143.50" y1="408.36" x2="147.00" y2="408.36" stroke="#000" stroke-width="1.2"/>
<line x1="141.00" y1="467.80" x2="147.00" y2="467.80" stroke="#000" stroke-width="1.2"/>
<line x1="288.00" y1="515.50" x2="288.00" y2="519.00" stroke="#000" stroke-width="1.2"/>
<line x1="429.50" y1="515.50" x2="429.50" y2="521.50" stroke="#000" stroke-width="1.2"/>
<line x1="571.00" y1="515.50" x2="571.00" y2="519.00" stroke="#000" stroke-width="1.2"/>
<line x1="712.50" y1="515.50" x2="712.50" y2="521.50" stroke="#000" stroke-width="1.2"/>
</g>
<g fill="none" stroke-linecap="round">
<line x1="160.2" y1="286.8" x2="201.8" y2="286.8" stroke="#000" stroke-width="6.2"/>
<line x1="160.2" y1="330" x2="202" y2="330" stroke="#0000ff" stroke-width="6" stroke-dasharray="10.9 13.8"/>
<line x1="160.2" y1="373.3" x2="202" y2="373.3" stroke="#ff0000" stroke-width="6" stroke-dasharray="3 8.4"/>
</g>
<g class="t" font-family="Liberation Sans, sans-serif" fill="#000">
<g transform="translate(97.48,66.20) scale(1,1.085)" stroke="#000" stroke-width="0.45"><text x="0.00" y="0" font-size="28">0.3</text></g>
<g transform="translate(97.48,158.20) scale(1,1.085)" stroke="#000" stroke-width="0.45"><text x="0.00" y="0" font-size="28">0.0</text></g>
<g transform="translate(88.15,250.20) scale(1,1.085)" stroke="#000" stroke-width="0.45"><text x="0.00" y="0" font-size="28">-0.3</text></g>
<g transform="translate(97.48,357.81) scale(1,1.085)" stroke="#000" stroke-width="0.45"><path transform="translate(0.00,0) scale(0.01367,-0.01367)" d="M763 0H583V1147Q518 1085 412.5 1023Q307 961 223 930V1104Q374 1175 487 1276Q600 1377 647 1472H763Z"/><text x="15.57" y="0" font-size="28">.3</text></g>
<g transform="translate(97.48,476.70) scale(1,1.085)" stroke="#000" stroke-width="0.45"><path transform="translate(0.00,0) scale(0.01367,-0.01367)" d="M763 0H583V1147Q518 1085 412.5 1023Q307 961 223 930V1104Q374 1175 487 1276Q600 1377 647 1472H763Z"/><text x="15.57" y="0" font-size="28">.0</text></g>
<g transform="translate(139.21,547.60) scale(1,1.085)" stroke="#000" stroke-width="0.45"><text x="0.00" y="0" font-size="28">0</text></g>
<g transform="translate(422.21,547.60) scale(1,1.085)" stroke="#000" stroke-width="0.45"><path transform="translate(0.00,0) scale(0.01367,-0.01367)" d="M763 0H583V1147Q518 1085 412.5 1023Q307 961 223 930V1104Q374 1175 487 1276Q600 1377 647 1472H763Z"/></g>
<g transform="translate(705.21,547.60) scale(1,1.085)" stroke="#000" stroke-width="0.45"><text x="0.00" y="0" font-size="28">2</text></g>
<text transform="translate(54.7,28.1) scale(1.015,1.05)" font-size="26.5" stroke="#000" stroke-width="0.2">(b)</text>
<text transform="translate(54.7,298.6) scale(1.015,1.05)" font-size="26.5" stroke="#000" stroke-width="0.2">(c)</text>
<text transform="translate(429.5,579) scale(1,1.03)" font-size="31.5" text-anchor="middle" stroke="#000" stroke-width="0.4">r(nm)</text>
<g transform="translate(69.1,226) rotate(-90)">
<g fill="none" stroke="#000" stroke-linecap="round"><ellipse cx="7.7" cy="-6.4" rx="5.7" ry="5.6" stroke-width="2.2"/><path d="M11.6,-10.6 C9.5,-13 5.6,-16 4.4,-19 C3.6,-21.6 6,-22.4 8.2,-22 C10,-21.7 11.4,-21.3 12.2,-20.4" stroke-width="1.5"/><circle cx="12.3" cy="-20.0" r="1.0" fill="#000" stroke-width="1"/></g>
<g transform="translate(17.09,0.00) scale(0.9363,1.0)" stroke="#000" stroke-width="0.5"><text x="0.00" y="0" font-size="34">v</text></g>
<g transform="translate(34.80,0.00) scale(0.6503,1.0)" stroke="#000" stroke-width="0.22"><text x="0.00" y="0" font-size="34.8">(</text></g>
<g transform="translate(44.36,0.00) scale(1.0353,1.0)" stroke="#000" stroke-width="0.22"><text x="0.00" y="0" font-size="34">r</text></g>
<g transform="translate(58.15,0.00) scale(0.7478,1.0)" stroke="#000" stroke-width="0.22"><text x="0.00" y="0" font-size="34.8">)</text></g>
<g transform="translate(79.89,0.00) scale(0.7873,1.0)" stroke="#000" stroke-width="0.22"><text x="0.00" y="0" font-size="41.2">(</text></g>
<g transform="translate(90.75,0.00) scale(0.9971,1.0)" stroke="#000" stroke-width="0.22"><text x="0.00" y="0" font-size="33.5">k</text></g>
<g transform="translate(109.07,13.50) scale(1.1179,1.0)" stroke="#000" stroke-width="0.3"><text x="0.00" y="0" font-size="20">B</text></g>
<g transform="translate(124.58,0.00) scale(0.8604,1.0)" stroke="#000" stroke-width="0.22"><text x="0.00" y="0" font-size="37">T</text></g>
<g transform="translate(146.39,0.00) scale(0.8605,1.0)" stroke="#000" stroke-width="0.22"><text x="0.00" y="0" font-size="41.2">)</text></g>
</g>
<g transform="translate(68.3,436) rotate(-90)">
<g transform="translate(0.0,0)"><rect x="2.5" y="-17.8" width="2.7" height="17.5"/><polygon points="5.2,-17.8 0,-16.1 2.5,-15.2"/><polygon points="7.9,-11.2 19.2,-1.1 19.2,-0.3 10.4,-0.3 12.1,-2.5 5.6,-9.3"/><path d="M6.8,-10.2 Q10.8,-13.2 15.6,-15.6" fill="none" stroke="#000" stroke-width="1.3"/><circle cx="16.7" cy="-16.1" r="1.65"/></g>
<g transform="translate(20.59,14.90) scale(1.1015,1.0)" stroke="#000" stroke-width="0.3"><text x="0.00" y="0" font-size="19.5">eff</text></g>
<g transform="translate(45.40,0.00) scale(1.0798,1.0)" stroke="#000" stroke-width="0.22"><text x="0.00" y="0" font-size="37">/</text></g>
<g transform="translate(57.9,0)"><rect x="2.5" y="-17.8" width="2.7" height="17.5"/><polygon points="5.2,-17.8 0,-16.1 2.5,-15.2"/><polygon points="7.9,-11.2 19.2,-1.1 19.2,-0.3 10.4,-0.3 12.1,-2.5 5.6,-9.3"/><path d="M6.8,-10.2 Q10.8,-13.2 15.6,-15.6" fill="none" stroke="#000" stroke-width="1.3"/><circle cx="16.7" cy="-16.1" r="1.65"/></g>
<g transform="translate(77.02,14.90) scale(1.1626,1.0)" stroke="#000" stroke-width="0.3"><text x="0.00" y="0" font-size="19.7">b</text></g>
</g>
<g transform="translate(207.39,294.30) scale(1.1745,1.05)" stroke="#000" stroke-width="0.15"><text x="0.00" y="0" font-size="22.5">σ</text></g>
<g transform="translate(224.48,301.70) scale(0.8955,1.0)" stroke="#000" stroke-width="0.35"><text x="0.00" y="0" font-size="21">s</text></g>
<g transform="translate(233.46,294.00) scale(1.2899,1.0)" stroke="#000" stroke-width="0.4"><text x="0.00" y="0" font-size="15">=</text></g>
<g transform="translate(207.39,336.70) scale(1.1745,1.05)" stroke="#000" stroke-width="0.15"><text x="0.00" y="0" font-size="22.5">σ</text></g>
<g transform="translate(224.48,345.10) scale(0.8955,1.0)" stroke="#000" stroke-width="0.35"><text x="0.00" y="0" font-size="21">s</text></g>
<g transform="translate(233.46,337.30) scale(1.2899,1.0)" stroke="#000" stroke-width="0.4"><text x="0.00" y="0" font-size="15">=</text></g>
<g transform="translate(207.39,380.20) scale(1.1745,1.05)" stroke="#000" stroke-width="0.15"><text x="0.00" y="0" font-size="22.5">σ</text></g>
<g transform="translate(224.48,388.30) scale(0.8955,1.0)" stroke="#000" stroke-width="0.35"><text x="0.00" y="0" font-size="21">s</text></g>
<g transform="translate(233.46,380.50) scale(1.2899,1.0)" stroke="#000" stroke-width="0.4"><text x="0.00" y="0" font-size="15">=</text></g>
<g transform="translate(250.11,293.90) scale(1.0413,1.08)" stroke="#000" stroke-width="0.3"><text x="0.00" y="0" font-size="22">0.0 C/m</text></g>
<g transform="translate(331.16,283.50) scale(0.9813,1.06)" stroke="#000" stroke-width="0.25"><text x="0.00" y="0" font-size="17">2</text></g>
<g transform="translate(250.29,336.30) scale(1.0587,1.08)" stroke="#000" stroke-width="0.3"><text x="0.00" y="0" font-size="22">0.0356 C/</text></g>
<g transform="translate(351.85,336.30) scale(0.9594,1.0)" stroke="#000" stroke-width="0.25"><text x="0.00" y="0" font-size="18">m</text></g>
<g transform="translate(366.57,325.60) scale(1.0846,1.06)" stroke="#000" stroke-width="0.25"><text x="0.00" y="0" font-size="17">2</text></g>
<g transform="translate(250.31,379.40) scale(1.0375,1.08)" stroke="#000" stroke-width="0.3"><text x="0.00" y="0" font-size="22">0.07</text><path transform="translate(42.82,0) scale(0.01074,-0.01074)" d="M763 0H583V1147Q518 1085 412.5 1023Q307 961 223 930V1104Q374 1175 487 1276Q600 1377 647 1472H763Z"/><text x="55.05" y="0" font-size="22">2 C/m</text></g>
<g transform="translate(368.48,368.80) scale(1.0717,1.06)" stroke="#000" stroke-width="0.25"><text x="0.00" y="0" font-size="17">2</text></g>
</g>
</svg>
</body></html>
